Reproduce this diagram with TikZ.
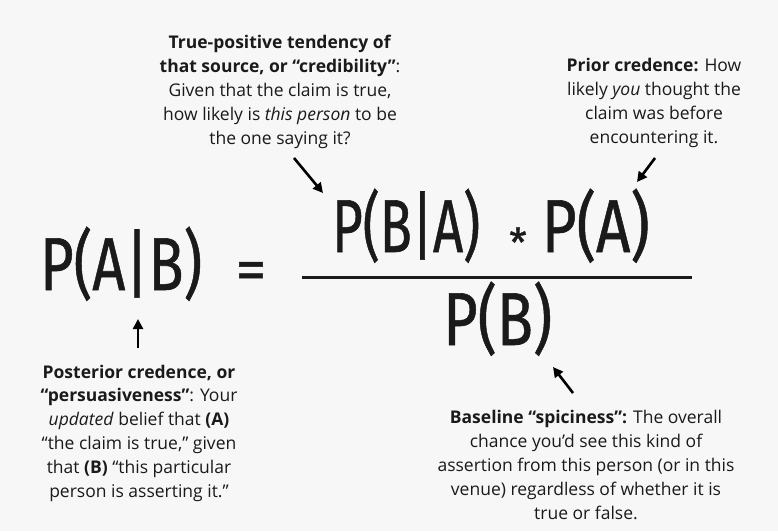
\documentclass[tikz,border=0pt]{standalone}
\usepackage{fontspec}
\usepackage{graphicx}
\setmainfont{Open Sans}
\newfontfamily\formfont{Fira Sans}[FakeBold=0.8]
\usetikzlibrary{arrows.meta}
\definecolor{bg}{HTML}{F7F7F7}
\definecolor{ink}{HTML}{1A1A1A}
\begin{document}
\begin{tikzpicture}[x=1pt,y=-1pt,
  note/.style={align=center, font=\fontsize{17.5}{23.8}\selectfont, text=ink, inner sep=0pt},
  formula/.style={font=\formfont\fontsize{75}{75}\selectfont, text=ink, inner sep=0pt},
  pointer/.style={-{Triangle[length=10pt,width=10pt]}, line width=2.6pt, black},
  barline/.style={line width=3pt, ink}]
\fill[bg] (0,0) rectangle (778,531);
\useasboundingbox (0,0) rectangle (778,531);

% formula
\node[formula, anchor=base west] (lhs) at (40,290) {\resizebox{162pt}{\height}{P(A|B)}};
\node[formula, anchor=base, font=\formfont\fontsize{60}{60}\selectfont] (eq) at (251,290) {\resizebox{31pt}{\height}{=}};
\node[formula, anchor=base west] (num1) at (332,252) {\resizebox{148pt}{\height}{P(B|A)}};
\node[formula, anchor=base, font=\formfont\fontsize{40}{40}\selectfont] (star) at (518,257) {*};
\node[formula, anchor=base east] (num2) at (650,252) {\resizebox{108pt}{\height}{P(A)}};
\node[formula, anchor=base west] (den) at (443,345) {\resizebox{109pt}{\height}{P(B)}};
\coordinate (barL) at (302,277);
\coordinate (barR) at (692,277);
\draw[barline] (barL) -- (barR);

% notes
\node[note] (cred) at (280,92) {\textbf{True-positive tendency of}\\
\textbf{that source, or “credibility”}:\\
Given that the claim is true,\\
how likely is \textit{this person} to be\\
the one saying it?};

\node[note] (prior) at (654,103) {\textbf{Prior credence:} How\\
likely \textit{you} thought the\\
claim was before\\
encountering it.};

\node[note] (post) at (139,433) {\textbf{Posterior credence, or}\\
\textbf{“persuasiveness”}: Your\\
\textit{updated} belief that \textbf{(A)}\\
“the claim is true,” given\\
that \textbf{(B)} “this particular\\
person is asserting it.”};

\node[note] (base) at (586,465) {\textbf{Baseline “spiciness”:} The overall\\
chance you’d see this kind of\\
assertion from this person (or in this\\
venue) regardless of whether it is\\
true or false.};

% pointers
\coordinate (a1s) at (294,158);
\coordinate (a1e) at (323,193);
\coordinate (a2s) at (655,158);
\coordinate (a2e) at (637,182);
\coordinate (a3s) at (138,348);
\coordinate (a3e) at (138,319);
\coordinate (a4s) at (573,393);
\coordinate (a4e) at (553,367);
\draw[pointer] (a1s) -- (a1e);
\draw[pointer] (a2s) -- (a2e);
\draw[pointer] (a3s) -- (a3e);
\draw[pointer] (a4s) -- (a4e);
\end{tikzpicture}
\end{document}
